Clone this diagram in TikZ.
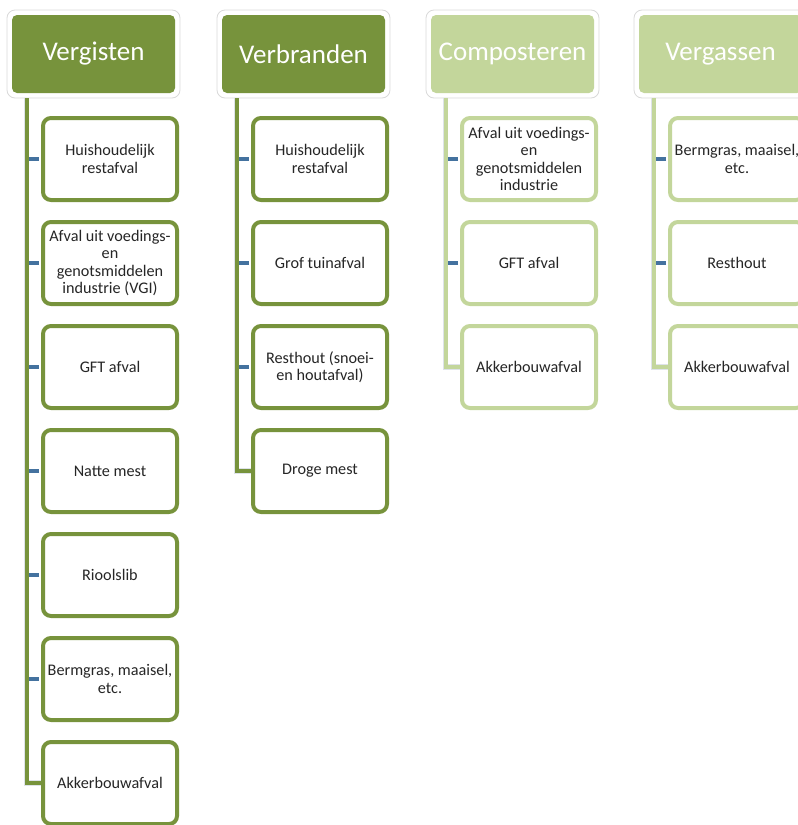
\documentclass[tikz,border=0pt]{standalone}
\usepackage{fontspec}
\setmainfont{Carlito}
\definecolor{dkg}{HTML}{77933C}
\definecolor{ltg}{HTML}{C3D69B}
\definecolor{stubblue}{HTML}{44729F}
\definecolor{txt}{HTML}{262626}
\definecolor{frame}{HTML}{D9D9D9}
\tikzset{
  x=1pt, y=-1pt,
  hdr/.style={rounded corners=5pt, minimum width=163pt, minimum height=78pt, inner sep=0pt,
    text=white, font=\fontsize{27}{30}\selectfont},
  hframe/.style={draw=frame, line width=0.8pt, fill=white, rounded corners=8pt},
  child/.style={draw=#1, line width=4pt, fill=white, rounded corners=8pt, minimum width=134pt,
    minimum height=82pt, inner sep=0pt, align=center, text=txt,
    font=\fontsize{16.2}{17.5}\selectfont},
  trunk/.style={draw=#1, line width=4pt, preaction={draw=frame!70!stubblue!40!white, line width=5.2pt}},
  stub/.style={draw=stubblue, line width=4pt, shorten >=2.2pt},
}
\begin{document}
\begin{tikzpicture}
\useasboundingbox (0,0) rectangle (798,825);
% header frames
\foreach \x in {12,222,431,639}{
  \draw[hframe] (\x-5,10) rectangle (\x+168,98);
}
% headers
\node[hdr, fill=dkg] (h0) at (93.5,54) {Vergisten};
\node[hdr, fill=dkg] (h1) at (303.5,54) {Verbranden};
\node[hdr, fill=ltg] (h2) at (512.5,54) {Composteren};
\node[hdr, fill=ltg] (h3) at (720.5,54) {Vergassen};
\coordinate (t0) at ([xshift=15pt,yshift=-5pt]h0.south west);
\coordinate (t1) at ([xshift=15pt,yshift=-5pt]h1.south west);
\coordinate (t2) at ([xshift=15pt,yshift=-5pt]h2.south west);
\coordinate (t3) at ([xshift=15pt,yshift=-5pt]h3.south west);
% trunks drawn first (behind children)
\path (110,783) coordinate (a6)
      (320,471) coordinate (b3) (529,367) coordinate (c2) (737,367) coordinate (d2);
\draw[trunk=dkg] (t0) |- ([xshift=-67pt]a6);
\draw[trunk=dkg] (t1) |- ([xshift=-67pt]b3);
\draw[trunk=ltg] (t2) |- ([xshift=-67pt]c2);
\draw[trunk=ltg] (t3) |- ([xshift=-67pt]d2);
% Vergisten children
\node[child=dkg] (c00) at (110,159) {Huishoudelijk\\restafval};
\node[child=dkg] (c01) at (110,263) {Afval uit voedings-\\en\\genotsmiddelen\\industrie (VGI)};
\node[child=dkg] (c02) at (110,367) {GFT afval};
\node[child=dkg] (c03) at (110,471) {Natte mest};
\node[child=dkg] (c04) at (110,575) {Rioolslib};
\node[child=dkg] (c05) at (110,679) {Bermgras, maaisel,\\etc.};
\node[child=dkg] (c06) at (110,783) {Akkerbouwafval};
% Verbranden children
\node[child=dkg] (c10) at (320,159) {Huishoudelijk\\restafval};
\node[child=dkg] (c11) at (320,263) {Grof tuinafval};
\node[child=dkg] (c12) at (320,367) {Resthout (snoei-\\en houtafval)};
\node[child=dkg] (c13) at (320,471) {Droge mest};
% Composteren children
\node[child=ltg] (c20) at (529,159) {Afval uit voedings-\\en\\genotsmiddelen\\industrie};
\node[child=ltg] (c21) at (529,263) {GFT afval};
\node[child=ltg] (c22) at (529,367) {Akkerbouwafval};
% Vergassen children
\node[child=ltg] (c30) at (737,159) {Bermgras, maaisel,\\etc.};
\node[child=ltg] (c31) at (737,263) {Resthout};
\node[child=ltg] (c32) at (737,367) {Akkerbouwafval};
% stubs
\foreach \c/\t in {c00/t0,c01/t0,c02/t0,c03/t0,c04/t0,c05/t0,c10/t1,c11/t1,c12/t1,c20/t2,c21/t2,c30/t3,c31/t3}{
  \draw[stub] ([xshift=-2pt]\c.west) -- (\c.west -| \t);
}
\end{tikzpicture}
\end{document}
